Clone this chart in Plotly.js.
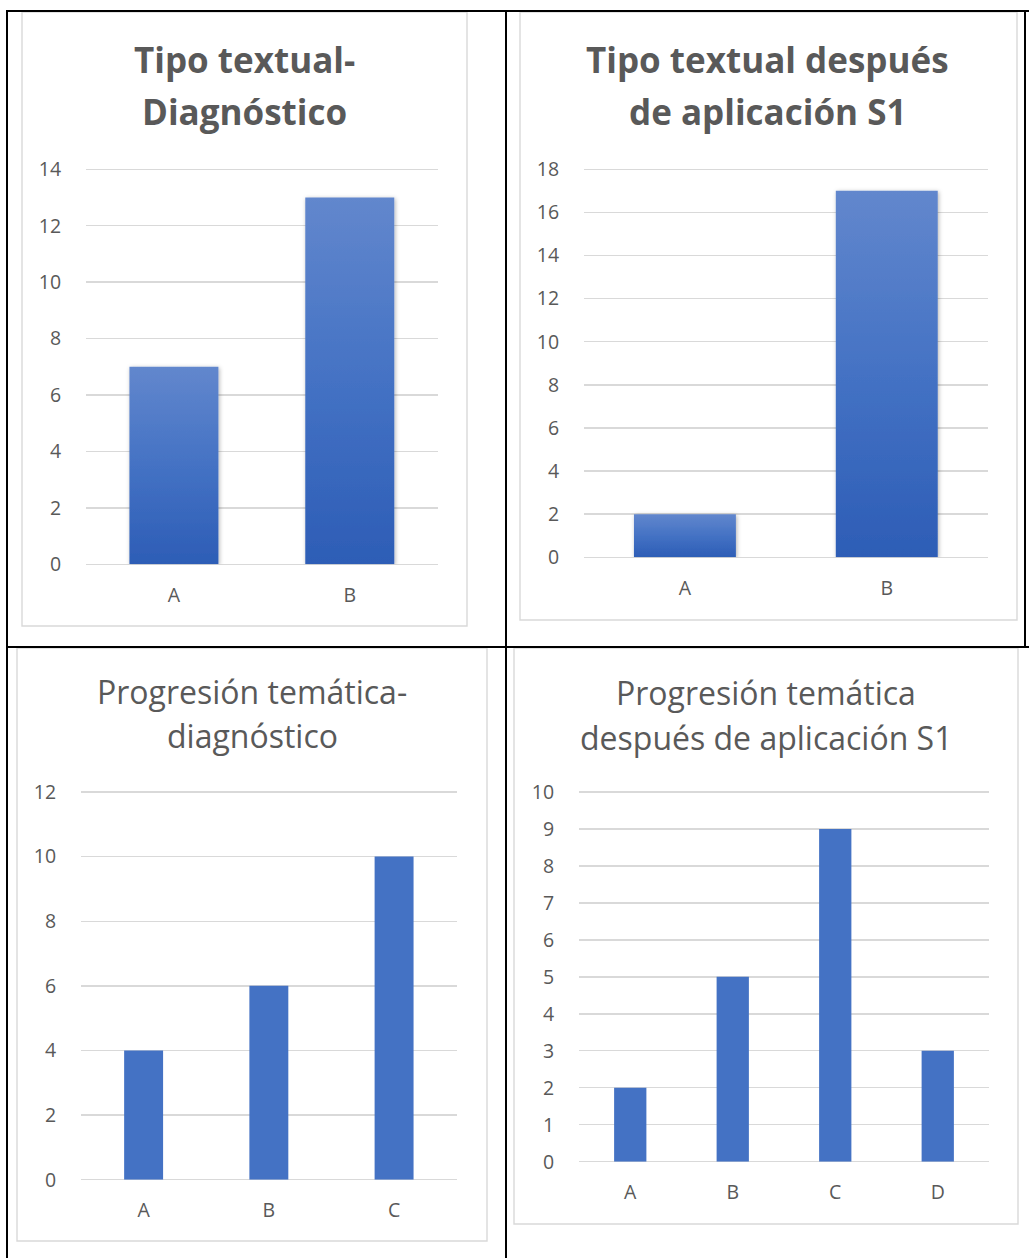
<!DOCTYPE html>
<html>
<head>
<meta charset="utf-8">
<script src="https://cdn.plot.ly/plotly-3.0.1.min.js"></script>
<style>
html,body{margin:0;padding:0;background:#ffffff;}
#chart{width:1029px;height:1258px;}
</style>
</head>
<body>
<div id="chart"></div>
<script>
// ---------------- DATA ----------------
const tipoCats = ['A', 'B'];
const tipoDiagnostico = [7, 13];
const tipoDespues = [2, 17];

const progDiagCats = ['A', 'B', 'C'];
const progDiagnostico = [4, 6, 10];

const progDespCats = ['A', 'B', 'C', 'D'];
const progDespues = [2, 5, 9, 3];

const title1 = ['Tipo textual-', 'Diagnóstico'];
const title2 = ['Tipo textual después', 'de aplicación S1'];
const title3 = ['Progresión temática-', 'diagnóstico'];
const title4 = ['Progresión temática', 'después de aplicación S1'];

// ---------------- LAYOUT HELPERS ----------------
const W = 1029, H = 1258;
const px = x => x / W;
const py = y => 1 - y / H;

const TXT = '#595959';
const GRID = '#d9d9d9';
const FONT = 'Open Sans, Noto Sans, sans-serif';
const BLUE = '#4472c4';

function bar(cats, vals, xa, ya, w) {
  return {
    type: 'bar', x: cats, y: vals, xaxis: xa, yaxis: ya, width: w,
    marker: {color: BLUE, line: {width: 0}},
    hoverinfo: 'none', showlegend: false
  };
}

const data = [
  bar(tipoCats, tipoDiagnostico, 'x', 'y', 0.506),
  bar(tipoCats, tipoDespues, 'x2', 'y2', 0.505),
  bar(progDiagCats, progDiagnostico, 'x3', 'y3', 0.311),
  bar(progDespCats, progDespues, 'x4', 'y4', 0.315)
];

function xax(x0, x1, anchor, n) {
  return {
    domain: [px(x0), px(x1)], anchor: anchor, type: 'category',
    range: [-0.5, n - 0.5], showgrid: false, zeroline: false, showline: false,
    ticks: 'outside', ticklen: 13, tickcolor: 'rgba(0,0,0,0)',
    tickfont: {family: FONT, size: 19.5, color: TXT}, fixedrange: true
  };
}
// extend the range a few pixels above the top tick so that the top gridline
// is drawn (Plotly skips gridlines on the very edge), same pixel scale
function yax(yBottom, yTop, anchor, max, dtick) {
  const pxPerUnit = (yBottom - yTop) / max;
  const extraPx = 3;
  const eps = extraPx / pxPerUnit;
  return {
    domain: [py(yBottom), py(yTop - extraPx)], anchor: anchor,
    range: [0, max + eps], tickmode: 'linear', tick0: 0, dtick: dtick,
    showgrid: true, gridcolor: GRID, gridwidth: 1.4,
    zeroline: true, zerolinecolor: GRID, zerolinewidth: 1.4, showline: false,
    ticks: 'outside', ticklen: 20, tickcolor: 'rgba(0,0,0,0)',
    tickfont: {family: FONT, size: 19.5, color: TXT}, fixedrange: true
  };
}

function titleAnn(lines, cx, y1, y2, size, bold) {
  return lines.map((t, i) => ({
    text: bold ? '<b>' + t + '</b>' : t,
    x: px(cx), y: py(i === 0 ? y1 : y2), xref: 'paper', yref: 'paper',
    xanchor: 'center', yanchor: 'middle', showarrow: false,
    font: {family: FONT, size: size, color: TXT}
  }));
}

function rect(x0, y0, x1, y1) {
  return {type: 'rect', xref: 'paper', yref: 'paper', x0: px(x0), x1: px(x1), y0: py(y0), y1: py(y1),
          line: {color: GRID, width: 1.4}, fillcolor: '#ffffff', layer: 'below'};
}
function bline(x0, y0, x1, y1) {
  return {type: 'line', xref: 'paper', yref: 'paper', x0: px(x0), x1: px(x1), y0: py(y0), y1: py(y1),
          line: {color: '#000000', width: 2}, layer: 'above'};
}

const layout = {
  width: W, height: H, margin: {l: 0, r: 0, t: 0, b: 0, pad: 0},
  paper_bgcolor: '#ffffff', plot_bgcolor: 'rgba(0,0,0,0)',
  font: {family: FONT, color: TXT},
  showlegend: false,
  xaxis: xax(86, 437.7, 'y', tipoCats.length),
  yaxis: yax(564.3, 169.3, 'x', 14, 2),
  xaxis2: xax(584, 987.7, 'y2', tipoCats.length),
  yaxis2: yax(557.3, 169.3, 'x2', 18, 2),
  xaxis3: xax(81, 456.7, 'y3', progDiagCats.length),
  yaxis3: yax(1179.7, 792, 'x3', 12, 2),
  xaxis4: xax(579, 989, 'y4', progDespCats.length),
  yaxis4: yax(1161.7, 792, 'x4', 10, 1),
  shapes: [
    rect(22, 12, 467, 626),
    rect(520, 12, 1017, 620),
    rect(17, 648, 487, 1241),
    rect(514, 648, 1018, 1224),
    bline(6, 11, 1029, 11),
    bline(7, 10, 7, 1258),
    bline(506, 10, 506, 1258),
    bline(1025, 10, 1025, 647),
    bline(6, 647, 1029, 647)
  ],
  annotations: [].concat(
    titleAnn(title1, 244.5, 59.5, 111, 35, true),
    titleAnn(title2, 767, 60, 111.5, 35, true),
    titleAnn(title3, 252, 691.6, 735.6, 32, false),
    titleAnn(title4, 766, 692.2, 737, 32, false)
  )
};

Plotly.newPlot('chart', data, layout, {staticPlot: true, displayModeBar: false}).then(gd => {
  const ns = 'http://www.w3.org/2000/svg';
  const svg = gd.querySelector('svg.main-svg');
  let defs = svg.querySelector('defs');
  if (!defs) { defs = document.createElementNS(ns, 'defs'); svg.insertBefore(defs, svg.firstChild); }
  const grad = document.createElementNS(ns, 'linearGradient');
  grad.setAttribute('id', 'barGrad');
  grad.setAttribute('x1', '0'); grad.setAttribute('y1', '0');
  grad.setAttribute('x2', '0'); grad.setAttribute('y2', '1');
  [['0%', '#6287cd'], ['50%', '#4472c4'], ['100%', '#2d5db6']].forEach(s => {
    const st = document.createElementNS(ns, 'stop');
    st.setAttribute('offset', s[0]); st.setAttribute('stop-color', s[1]);
    grad.appendChild(st);
  });
  defs.appendChild(grad);
  const filt = document.createElementNS(ns, 'filter');
  filt.setAttribute('id', 'barShadow');
  filt.setAttribute('x', '-20%'); filt.setAttribute('y', '-20%');
  filt.setAttribute('width', '140%'); filt.setAttribute('height', '140%');
  const ds = document.createElementNS(ns, 'feDropShadow');
  ds.setAttribute('dx', '1'); ds.setAttribute('dy', '1');
  ds.setAttribute('stdDeviation', '2');
  ds.setAttribute('flood-color', '#000'); ds.setAttribute('flood-opacity', '0.3');
  filt.appendChild(ds);
  defs.appendChild(filt);
  gd.querySelectorAll('.subplot.xy .barlayer path, .subplot.x2y2 .barlayer path').forEach(p => {
    p.style.fill = 'url(#barGrad)';
    p.setAttribute('filter', 'url(#barShadow)');
  });
});
</script>
</body>
</html>
